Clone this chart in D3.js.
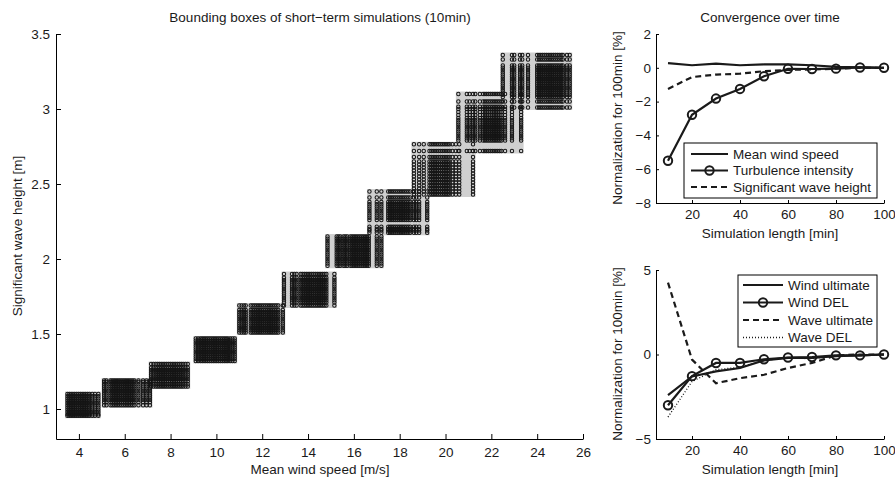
<!DOCTYPE html>
<html>
<head>
<meta charset="utf-8">
<script src="https://cdn.jsdelivr.net/npm/d3@7"></script>
<style>
  body { margin: 0; background: #fff; }
  text { font-family: "Liberation Sans", Arial, sans-serif; fill: #1a1a1a; }
  .axis path, .axis line { stroke: #000; stroke-width: 1px; }
  .axis text { font-size: 13.5px; fill: #1a1a1a; font-family: "Liberation Sans", Arial, sans-serif; }
</style>
</head>
<body>
<script>
// ---- left chart: wind speed columns / wave height rows of each 10min bin
var windBins = [4, 6, 8, 10, 12, 14, 16, 18, 20, 22, 24];
var windCols = [
  [3.5,3.58,3.66,3.74,3.82,3.9,3.98,4.06,4.14,4.22,4.3,4.38,4.46,4.58,4.7,4.85],
  [5.1,5.2,5.38,5.46,5.54,5.62,5.7,5.78,5.86,5.94,6.02,6.1,6.18,6.26,6.34,6.42,6.6,6.8,6.95,7.1],
  [7.15,7.25,7.35,7.43,7.51,7.59,7.67,7.75,7.83,7.91,7.99,8.07,8.15,8.23,8.31,8.39,8.47,8.55,8.65,8.75],
  [9.1,9.2,9.3,9.38,9.46,9.54,9.62,9.7,9.78,9.86,9.94,10.02,10.1,10.18,10.26,10.34,10.42,10.5,10.6,10.7,10.8],
  [11.0,11.1,11.2,11.28,11.5,11.58,11.66,11.74,11.82,11.9,11.98,12.06,12.14,12.22,12.3,12.38,12.46,12.54,12.62,12.7,12.9],
  [12.95,13.3,13.4,13.5,13.68,13.76,13.84,13.92,14.0,14.08,14.16,14.24,14.32,14.4,14.48,14.56,14.64,14.72,14.8,15.15],
  [14.85,15.25,15.33,15.41,15.55,15.63,15.71,15.85,15.93,16.01,16.09,16.17,16.25,16.33,16.41,16.49,16.57,16.65,17.0,17.2],
  [16.68,17.0,17.2,17.5,17.58,17.66,17.74,17.82,17.9,17.98,18.06,18.14,18.22,18.3,18.38,18.46,18.62,18.72,18.85,19.2],
  [18.62,18.85,19.05,19.3,19.38,19.46,19.54,19.62,19.7,19.78,19.86,19.94,20.02,20.1,20.18,20.3,20.45,20.6,21.2],
  [20.56,20.93,21.05,21.2,21.3,21.5,21.64,21.72,21.8,21.88,21.96,22.04,22.12,22.2,22.28,22.36,22.44,22.6,22.9,23.3],
  [22.5,22.9,23.0,23.25,23.35,23.6,24.0,24.08,24.16,24.24,24.32,24.4,24.48,24.56,24.64,24.72,24.8,24.88,24.96,25.05,25.12,25.3,25.42]
];
var hsRows = [
  [0.955,0.965,0.98,0.995,1.01,1.025,1.04,1.055,1.07,1.085,1.1],
  [1.025,1.045,1.06,1.075,1.09,1.105,1.12,1.135,1.15,1.165,1.18,1.19],
  [1.15,1.165,1.185,1.2,1.215,1.23,1.245,1.26,1.275,1.3],
  [1.32,1.335,1.35,1.365,1.38,1.395,1.41,1.425,1.44,1.455,1.47],
  [1.51,1.525,1.54,1.555,1.57,1.585,1.6,1.615,1.63,1.645,1.66,1.69],
  [1.69,1.71,1.725,1.74,1.755,1.77,1.785,1.8,1.815,1.83,1.845,1.86,1.875,1.9],
  [1.955,1.97,1.985,2.0,2.015,2.03,2.045,2.06,2.075,2.09,2.105,2.12,2.135,2.15],
  [2.175,2.19,2.2,2.215,2.26,2.275,2.29,2.305,2.32,2.335,2.35,2.365,2.38,2.41,2.45],
  [2.43,2.45,2.47,2.49,2.51,2.53,2.55,2.57,2.59,2.61,2.63,2.65,2.68,2.72,2.765],
  [2.72,2.79,2.805,2.82,2.835,2.85,2.865,2.88,2.895,2.91,2.925,2.94,2.96,2.98,3.0,3.015,3.05,3.1],
  [3.01,3.05,3.08,3.095,3.11,3.125,3.14,3.155,3.17,3.185,3.2,3.215,3.23,3.245,3.26,3.275,3.29,3.33,3.36]
];
var leftXTicks = [4,6,8,10,12,14,16,18,20,22,24,26];
var leftYTicks = [1,1.5,2,2.5,3,3.5];

// ---- right charts
var simLength = [10,20,30,40,50,60,70,80,90,100];
var meanWind  = [0.28,0.15,0.25,0.15,0.2,0.2,0.15,0.06,0.02,0];
var turbInt   = [-5.5,-2.78,-1.82,-1.25,-0.5,-0.06,-0.07,-0.05,0.02,0];
var sigWave   = [-1.25,-0.55,-0.4,-0.35,-0.2,-0.12,-0.1,-0.05,0,0];
var windUlt   = [-2.4,-1.3,-1.0,-0.8,-0.35,-0.2,-0.2,-0.1,-0.05,0];
var windDel   = [-3.0,-1.28,-0.5,-0.5,-0.28,-0.18,-0.15,-0.05,-0.05,0];
var waveUlt   = [4.25,-0.3,-1.7,-1.4,-1.2,-0.8,-0.5,-0.05,0,0];
var waveDel   = [-3.7,-1.6,-0.9,-0.75,-0.35,-0.2,-0.25,-0.05,-0.05,0];
var simTicks  = [20,40,60,80,100];

var svg = d3.select("body").append("svg")
  .attr("width", 895).attr("height", 480);

// ================= left chart =================
var x = d3.scaleLinear().domain([3, 26]).range([56, 583]);
var y = d3.scaleLinear().domain([0.8, 3.5]).range([439, 34]);

var boxes = windBins.map(function(w, i){
  var pts = [];
  windCols[i].forEach(function(c){
    hsRows[i].forEach(function(r){ pts.push([c, r]); });
  });
  return { wind: w, xs: d3.extent(windCols[i]), ys: d3.extent(hsRows[i]), pts: pts };
});

var pad = 2.5;
svg.append("g").selectAll("rect")
  .data(boxes).enter().append("rect")
  .attr("x", function(d){ return x(d.xs[0]) - pad; })
  .attr("y", function(d){ return y(d.ys[1]) - pad; })
  .attr("width", function(d){ return x(d.xs[1]) - x(d.xs[0]) + 2 * pad; })
  .attr("height", function(d){ return y(d.ys[0]) - y(d.ys[1]) + 2 * pad; })
  .attr("fill", "#d0d0d0");

var dots = svg.append("g");
boxes.forEach(function(b){
  dots.selectAll(null)
    .data(b.pts).enter().append("circle")
    .attr("cx", function(d){ return x(d[0]); })
    .attr("cy", function(d){ return y(d[1]); })
    .attr("r", 1.7)
    .attr("fill", "none")
    .attr("stroke", "#151515")
    .attr("stroke-width", 1.05);
});

svg.append("g").attr("class", "axis")
  .attr("transform", "translate(0,439)")
  .call(d3.axisBottom(x).tickValues(leftXTicks).tickSizeInner(-5).tickSizeOuter(0).tickPadding(8)
    .tickFormat(d3.format("d")));
svg.append("g").attr("class", "axis")
  .attr("transform", "translate(56,0)")
  .call(d3.axisLeft(y).tickValues(leftYTicks).tickSizeInner(-5).tickSizeOuter(0).tickPadding(6)
    .tickFormat(d3.format("~g")));

svg.append("text").attr("x", 320).attr("y", 22).attr("text-anchor", "middle")
  .style("font-size", "13.5px").text("Bounding boxes of short\u2212term simulations (10min)");
svg.append("text").attr("x", 320).attr("y", 474).attr("text-anchor", "middle")
  .style("font-size", "13.5px").text("Mean wind speed [m/s]");
svg.append("text").attr("transform", "translate(22,236) rotate(-90)").attr("text-anchor", "middle")
  .style("font-size", "13.5px").text("Significant wave height [m]");

// ================= right charts =================
var xs = d3.scaleLinear().domain([5, 100]).range([656, 884]);

function panel(top, bottom, ydom, yticks, series, legend, title, labelY) {
  var ys = d3.scaleLinear().domain(ydom).range([bottom, top]);
  var g = svg.append("g");
  var line = d3.line().x(function(d, i){ return xs(simLength[i]); }).y(function(d){ return ys(d); });

  series.forEach(function(s){
    g.append("path").datum(s.values)
      .attr("d", line)
      .attr("fill", "none")
      .attr("stroke", "#1a1a1a")
      .attr("stroke-width", s.dash === "1,2" ? 1.3 : 2.2)
      .attr("stroke-dasharray", s.dash || null);
    if (s.marker) {
      g.selectAll(null).data(s.values).enter().append("circle")
        .attr("cx", function(d, i){ return xs(simLength[i]); })
        .attr("cy", function(d){ return ys(d); })
        .attr("r", 4.2)
        .attr("fill", "none")
        .attr("stroke", "#1a1a1a")
        .attr("stroke-width", 2);
    }
  });

  svg.append("g").attr("class", "axis")
    .attr("transform", "translate(0," + bottom + ")")
    .call(d3.axisBottom(xs).tickValues(simTicks).tickSizeInner(-3).tickSizeOuter(0).tickPadding(6)
      .tickFormat(d3.format("d")));
  svg.append("g").attr("class", "axis")
    .attr("transform", "translate(656,0)")
    .call(d3.axisLeft(ys).tickValues(yticks).tickSizeInner(-3).tickSizeOuter(0).tickPadding(5)
      .tickFormat(d3.format("d")));

  // legend
  var lg = svg.append("g");
  lg.append("rect").attr("x", legend.x).attr("y", legend.y)
    .attr("width", legend.w).attr("height", legend.h)
    .attr("fill", "#fff").attr("stroke", "#000").attr("stroke-width", 1);
  series.forEach(function(s, i){
    var ly = legend.y + legend.first + i * legend.step;
    lg.append("line").attr("x1", legend.lx0).attr("x2", legend.lx1)
      .attr("y1", ly).attr("y2", ly)
      .attr("stroke", "#1a1a1a")
      .attr("stroke-width", s.dash === "1,2" ? 1.3 : 2.2)
      .attr("stroke-dasharray", s.dash || null);
    if (s.marker) {
      lg.append("circle").attr("cx", (legend.lx0 + legend.lx1) / 2).attr("cy", ly).attr("r", 4.2)
        .attr("fill", "none").attr("stroke", "#1a1a1a").attr("stroke-width", 2);
    }
    lg.append("text").attr("x", legend.lx1 + 5).attr("y", ly + 4.5)
      .style("font-size", "13.5px").text(s.name);
  });

  if (title) {
    svg.append("text").attr("x", 770).attr("y", 22).attr("text-anchor", "middle")
      .style("font-size", "13.5px").text(title);
  }
  svg.append("text").attr("x", 770).attr("y", bottom + 35).attr("text-anchor", "middle")
    .style("font-size", "13.5px").text("Simulation length [min]");
  svg.append("text").attr("transform", "translate(622," + labelY + ") rotate(-90)")
    .attr("text-anchor", "middle").style("font-size", "13.5px").text("Normalization for 100min [%]");
}

panel(34, 203, [-8, 2], [-8,-6,-4,-2,0,2], [
  { name: "Mean wind speed", values: meanWind },
  { name: "Turbulence intensity", values: turbInt, marker: true },
  { name: "Significant wave height", values: sigWave, dash: "6,4" }
], { x: 684, y: 143, w: 193, h: 55, first: 11, step: 16.5, lx0: 691, lx1: 728 },
 "Convergence over time", 118);

panel(270, 439, [-5, 5], [-5, 0, 5], [
  { name: "Wind ultimate", values: windUlt },
  { name: "Wind DEL", values: windDel, marker: true },
  { name: "Wave ultimate", values: waveUlt, dash: "6,4" },
  { name: "Wave DEL", values: waveDel, dash: "1,2" }
], { x: 738, y: 275, w: 139, h: 72, first: 10, step: 17.5, lx0: 743, lx1: 783 },
 null, 354);
</script>
</body>
</html>
